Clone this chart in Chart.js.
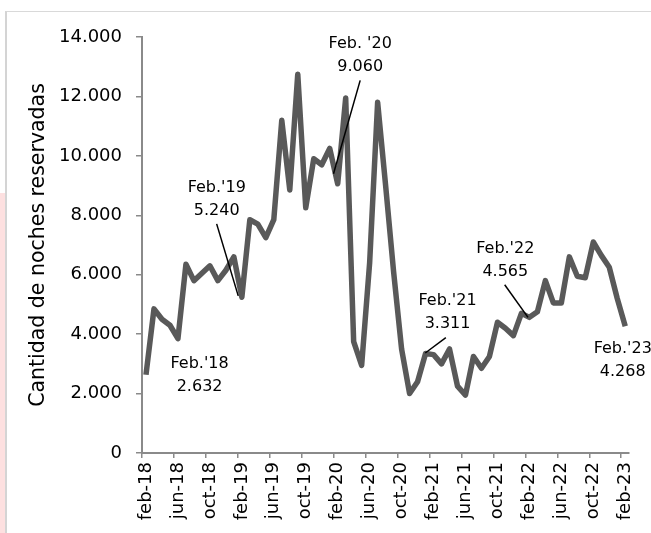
<!DOCTYPE html>
<html>
<head>
<meta charset="utf-8">
<script src="https://cdn.jsdelivr.net/npm/chart.js@4/dist/chart.umd.min.js"></script>
<style>
html,body{margin:0;padding:0;background:#fff;}
#wrap{position:relative;width:651px;height:533px;overflow:hidden;}
#pink{position:absolute;left:0;top:193px;width:5px;height:340px;background:#fde0e0;}
#frame{position:absolute;left:5px;top:11px;width:700px;height:600px;border-left:2px solid #d4d4d4;border-top:1px solid #d9d9d9;}
canvas{position:absolute;left:0;top:0;}
</style>
</head>
<body>
<div id="wrap"><div id="pink"></div><div id="frame"></div><canvas id="c" width="651" height="533"></canvas></div>
<script>
// ---- data ----
const months = [
  'feb-18','mar-18','abr-18','may-18','jun-18','jul-18','ago-18','sep-18','oct-18','nov-18','dic-18','ene-19',
  'feb-19','mar-19','abr-19','may-19','jun-19','jul-19','ago-19','sep-19','oct-19','nov-19','dic-19','ene-20',
  'feb-20','mar-20','abr-20','may-20','jun-20','jul-20','ago-20','sep-20','oct-20','nov-20','dic-20','ene-21',
  'feb-21','mar-21','abr-21','may-21','jun-21','jul-21','ago-21','sep-21','oct-21','nov-21','dic-21','ene-22',
  'feb-22','mar-22','abr-22','may-22','jun-22','jul-22','ago-22','sep-22','oct-22','nov-22','dic-22','ene-23',
  'feb-23'
];
const nights = [
  2632, 4850, 4500, 4300, 3850, 6350, 5800, 6050, 6300, 5800, 6150, 6600,
  5240, 7850, 7700, 7250, 7850, 11200, 8850, 12750, 8250, 9900, 9700, 10250,
  9060, 11950, 3750, 2950, 6400, 11800, 9000, 6100, 3500, 2000, 2400, 3350,
  3311, 3000, 3500, 2250, 1950, 3250, 2850, 3250, 4400, 4200, 3950, 4700,
  4565, 4750, 5800, 5050, 5050, 6600, 5950, 5900, 7100, 6650, 6250, 5200,
  4268
];
const yMin = 0, yMax = 14000, yStep = 2000;
const labelEvery = 4;
const yTitle = 'Cantidad de noches reservadas';
const noteIndex = [0, 12, 24, 36, 48, 60];
const noteTitle = ["Feb.'18", "Feb.'19", "Feb. '20", "Feb.'21", "Feb.'22", "Feb.'23"];

// ---- annotation layout (pixel offsets from the data point) ----
const noteLayout = [
  {dx: 53.6, dy: -10.8, lead: null},
  {dx: -25.1, dy: -109.4, lead: [-25.2, -73.4, -3.6, -1.4]},
  {dx: 22.5, dy: -139.7, lead: [22.5, -103.4, -4.2, -10]},
  {dx: 14, dy: -53.3, lead: [12.3, -17, -8.3, -1.6]},
  {dx: -24.1, dy: -68.4, lead: [-24.7, -32.6, -1.4, 0]},
  {dx: -2.5, dy: 22.8, lead: null}
];

const FONT = '"DejaVu Sans", "Liberation Sans", Arial, sans-serif';
const fmt = v => String(v).replace(/\B(?=(\d{3})+(?!\d))/g, '.');

const notePlugin = {
  id: 'notes',
  afterDatasetsDraw(chart) {
    const {ctx, scales: {x, y}} = chart;
    ctx.save();
    ctx.font = '16px ' + FONT;
    ctx.fillStyle = '#000';
    ctx.strokeStyle = '#000';
    ctx.lineWidth = 1.5;
    ctx.textAlign = 'center';
    ctx.textBaseline = 'middle';
    noteIndex.forEach((idx, k) => {
      const px = x.getPixelForValue(idx);
      const py = y.getPixelForValue(nights[idx]);
      const L = noteLayout[k];
      if (L.lead) {
        ctx.beginPath();
        ctx.moveTo(px + L.lead[0], py + L.lead[1]);
        ctx.lineTo(px + L.lead[2], py + L.lead[3]);
        ctx.stroke();
      }
      ctx.fillText(noteTitle[k], px + L.dx, py + L.dy);
      ctx.fillText(fmt(nights[idx]), px + L.dx, py + L.dy + 22.5);
    });
    ctx.restore();
  }
};

const axisGray = '#8a8a8a';

new Chart(document.getElementById('c'), {
  type: 'line',
  data: {
    labels: months,
    datasets: [{
      data: nights,
      borderColor: '#595959',
      borderWidth: 5.5,
      pointRadius: 0,
      tension: 0,
      borderJoinStyle: 'round',
      borderCapStyle: 'butt',
      fill: false,
      clip: false
    }]
  },
  options: {
    responsive: false,
    devicePixelRatio: 1,
    animation: false,
    events: [],
    layout: {padding: {left: 0, right: 19.5, top: 37, bottom: 0}},
    plugins: {legend: {display: false}, tooltip: {enabled: false}},
    scales: {
      x: {
        type: 'category',
        offset: true,
        grid: {
          offset: true,
          drawOnChartArea: false,
          drawTicks: true,
          tickLength: 5,
          lineWidth: 1.5,
          color: ctx => (ctx.index !== undefined && ctx.index % labelEvery === 0) ? axisGray : 'rgba(0,0,0,0)'
        },
        border: {display: true, color: axisGray, width: 2},
        ticks: {
          autoSkip: false,
          maxRotation: 90,
          minRotation: 90,
          padding: 4,
          color: '#000',
          font: {family: FONT, size: 18},
          callback: (v, i) => (i % labelEvery === 0 ? months[i] : '')
        },
        afterFit: s => { s.height = 80; }
      },
      y: {
        min: yMin,
        max: yMax,
        grid: {
          drawOnChartArea: false,
          drawTicks: true,
          tickLength: 6,
          lineWidth: 1.5,
          color: axisGray
        },
        border: {display: true, color: axisGray, width: 2},
        ticks: {
          stepSize: yStep,
          padding: 14,
          color: '#000',
          font: {family: FONT, size: 18},
          callback: v => fmt(v)
        },
        title: {
          display: true,
          text: yTitle,
          color: '#000',
          font: {family: FONT, size: 20.5},
          padding: {top: 26, bottom: 0}
        },
        afterFit: s => { s.width = 142; }
      }
    }
  },
  plugins: [notePlugin]
});
</script>
</body>
</html>
